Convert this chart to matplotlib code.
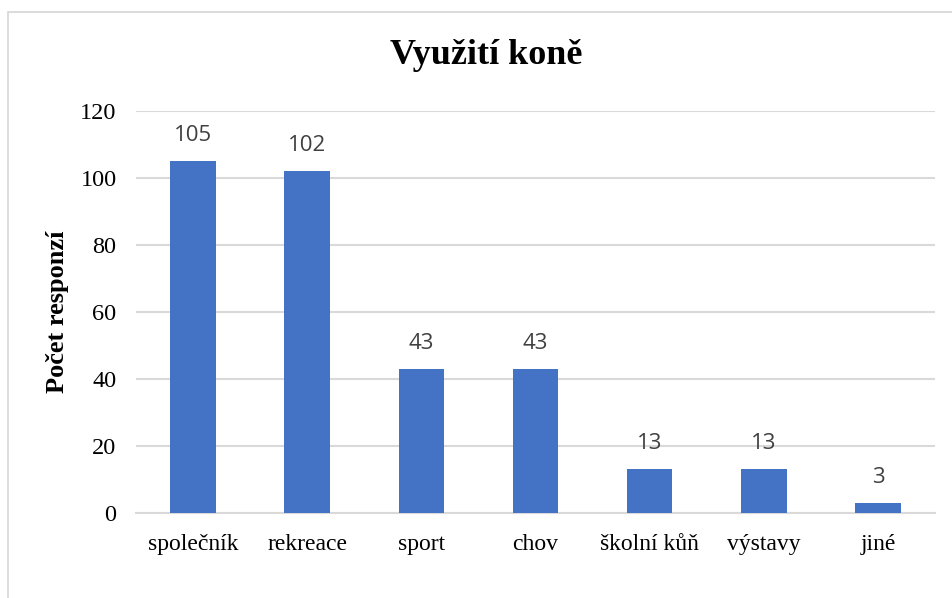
import matplotlib
matplotlib.use("Agg")
import matplotlib.pyplot as plt
from matplotlib.patches import Rectangle

# data
categories = ["společník", "rekreace", "sport", "chov", "školní kůň", "výstavy", "jiné"]
counts = [105, 102, 43, 43, 13, 13, 3]
y_ticks = [0, 20, 40, 60, 80, 100, 120]

bar_color = "#4472C4"
grid_color = "#D9D9D9"
serif = ["Liberation Serif", "DejaVu Serif"]

fig = plt.figure(figsize=(9.52, 5.98), dpi=100)
ax = fig.add_axes([136 / 952, 85 / 598, 799 / 952, 402 / 598])

# chart frame (light border, cut off at right/bottom like the reference)
frame = Rectangle((8 / 952, -0.05), 1.2, (598 - 12) / 598 + 0.05,
                  transform=fig.transFigure, fill=False,
                  edgecolor="#D9D9D9", linewidth=1.3)
fig.patches.append(frame)

x = list(range(len(categories)))
bars = ax.bar(x, counts, width=0.4, color=bar_color, zorder=3)

for xi, v in zip(x, counts):
    ax.annotate(str(v), (xi, v), xytext=(0, 11), textcoords="offset points",
                ha="center", va="bottom", fontsize=16, color="#404040",
                family=["Open Sans", "DejaVu Sans"])

ax.set_xlim(-0.5, len(categories) - 0.5)
ax.set_ylim(0, 120)
ax.set_yticks(y_ticks)
ax.set_xticks(x)
ax.set_xticklabels(categories, family=serif, fontsize=17)
ax.set_yticklabels([str(t) for t in y_ticks], family=serif, fontsize=17.5)
ax.tick_params(axis="both", length=0)
ax.tick_params(axis="x", pad=15)
ax.tick_params(axis="y", pad=14)

ax.grid(axis="y", color=grid_color, linewidth=1.5, zorder=0)
for s in ["top", "right", "left"]:
    ax.spines[s].set_visible(False)
ax.spines["bottom"].set_color(grid_color)
ax.spines["bottom"].set_linewidth(1.5)

ax.set_ylabel("Počet responzí", family=serif, fontsize=19, fontweight="bold",
              labelpad=8)
fig.text(486 / 952, 1 - 55 / 598, "Využití koně", family=serif, fontsize=26,
         fontweight="bold", ha="center", va="center")

fig.savefig("out.png", dpi=100, facecolor="white")
